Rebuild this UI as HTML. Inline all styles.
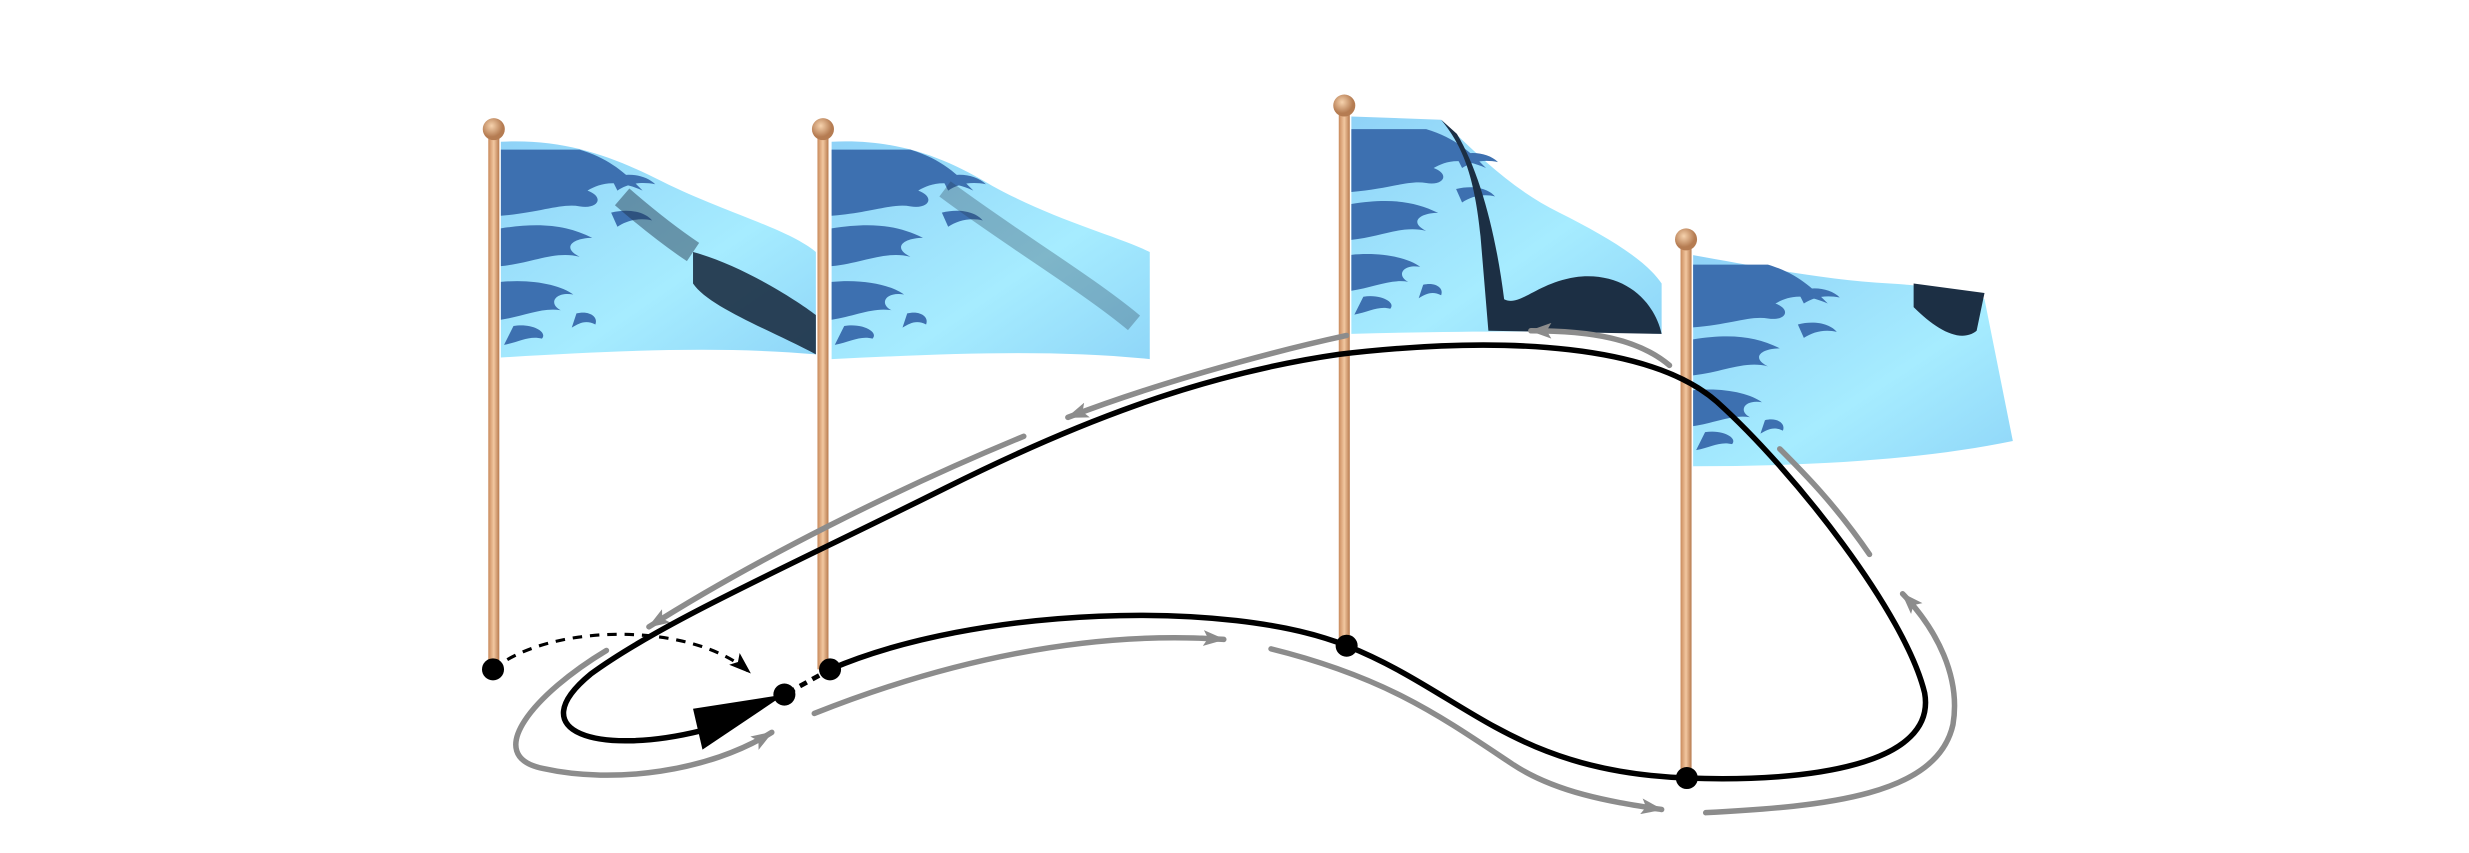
<!DOCTYPE html>
<html><head><meta charset="utf-8"><style>
html,body{margin:0;padding:0;background:#fff;}
svg{display:block;}
</style></head><body>
<svg width="2469" height="853" viewBox="0 0 1567.6 541.6" xmlns="http://www.w3.org/2000/svg">
<defs>
<linearGradient id="pole" x1="0" x2="1"><stop offset="0" stop-color="#c98a5c"/><stop offset="0.5" stop-color="#f2c7a0"/><stop offset="1" stop-color="#b77a4e"/></linearGradient>
<radialGradient id="knob" cx="0.4" cy="0.35"><stop offset="0" stop-color="#f6d2ad"/><stop offset="1" stop-color="#b57c52"/></radialGradient>
<linearGradient id="cloth" x1="0" y1="0" x2="1" y2="1"><stop offset="0" stop-color="#8fd2f7"/><stop offset="0.6" stop-color="#a6ecff"/><stop offset="1" stop-color="#8fd6f8"/></linearGradient>
<marker id="ga" markerWidth="14" markerHeight="10" refX="13" refY="5" orient="auto" markerUnits="userSpaceOnUse"><path d="M0,0 L14,5 L0,10 L3,5 Z" fill="#8c8c8c"/></marker>
<marker id="ba" markerWidth="14" markerHeight="10" refX="13" refY="5" orient="auto" markerUnits="userSpaceOnUse"><path d="M0,0 L14,5 L0,10 L3,5 Z" fill="#000"/></marker>
<g id="flames" fill="#3d70b0">
<path d="M0,0 L50,0 C70,6 80,16 90,26 C72,18 62,22 55,26 C66,30 62,38 50,36 C38,34 25,40 0,42 Z"/>
<path d="M0,50 C25,46 42,48 58,56 C46,56 38,62 50,68 C34,64 20,72 0,74 Z"/>
<path d="M0,84 C20,82 38,86 46,92 C34,90 30,98 38,102 C26,100 14,106 0,108 Z"/>
<path d="M8,112 C20,110 30,116 26,120 C18,118 12,122 2,124 Z"/>
<path d="M48,104 C56,102 62,106 60,111 C54,108 50,110 45,113 Z"/>
<path d="M70,40 C82,37 92,40 96,45 C88,43 80,45 74,49 Z"/>
<path d="M70,18 C80,14 92,16 98,22 C88,20 80,22 74,26 Z"/>
</g>
</defs>

<g>
<path d="M318,90 C360,88 390,100 420,115 C460,135 500,145 518,160 L518,225 C460,220 400,222 318,227 Z" fill="url(#cloth)"/>
<use href="#flames" transform="translate(318,95)"/>
<path d="M440,160 C470,168 505,190 518,200 L518,225 C490,210 450,195 440,180 Z" fill="#1c2f44" opacity="0.9"/>
<path d="M395,125 C410,138 425,150 440,160" stroke="#1c2f44" stroke-width="14" fill="none" opacity="0.45"/>
</g>
<g>
<path d="M528,90 C570,88 600,100 630,118 C670,140 710,150 730,160 L730,228 C670,222 610,224 528,228 Z" fill="url(#cloth)"/>
<use href="#flames" transform="translate(528,95)"/>
<path d="M600,120 C640,150 690,180 720,205" stroke="#23374d" stroke-width="12" fill="none" opacity="0.3"/>
</g>
<g>
<path d="M858,74 L915,76 C940,100 960,120 990,135 C1020,150 1045,165 1055,180 L1055,212 C1000,210 930,210 858,212 Z" fill="url(#cloth)"/>
<use href="#flames" transform="translate(858,82) scale(0.95,0.95)"/>
<path d="M915,76 C928,92 936,110 940,150 L945,210 L1055,212 C1050,190 1030,172 1000,176 C975,180 965,195 955,190 C950,150 940,110 925,85 Z" fill="#1c2f44"/>
</g>
<g>
<path d="M1075,162 C1120,170 1160,178 1200,180 C1230,182 1255,185 1260,190 L1278,280 C1220,292 1150,296 1075,296 Z" fill="url(#cloth)"/>
<use href="#flames" transform="translate(1075,168) scale(0.95,0.95)"/>
<path d="M1215,180 L1260,186 L1255,210 C1245,218 1230,210 1215,195 Z" fill="#1c2f44"/>
</g>

<g><rect x="310" y="88" width="7" height="337" fill="url(#pole)"/><circle cx="313.5" cy="82" r="7" fill="url(#knob)"/></g>
<g><rect x="519" y="88" width="7" height="337" fill="url(#pole)"/><circle cx="522.5" cy="82" r="7" fill="url(#knob)"/></g>
<g><rect x="850" y="73" width="7" height="337" fill="url(#pole)"/><circle cx="853.5" cy="67" r="7" fill="url(#knob)"/></g>
<g><rect x="1067" y="158" width="7" height="336" fill="url(#pole)"/><circle cx="1070.5" cy="152" r="7" fill="url(#knob)"/></g>

<g stroke="#8c8c8c" stroke-width="3.5" fill="none" stroke-linecap="round">
<path d="M385,413 C340,440 305,480 345,488 C390,498 450,490 490,465" marker-end="url(#ga)"/>
<path d="M517,453 C600,420 690,400 777,406" marker-end="url(#ga)"/>
<path d="M807,412 C880,430 915,455 960,485 C990,505 1030,510 1055,514" marker-end="url(#ga)"/>
<path d="M1083,516 C1160,512 1230,505 1240,460 C1245,430 1230,400 1208,377" marker-end="url(#ga)"/>
<path d="M1187,352 C1165,320 1145,300 1130,285"/>
<path d="M1060,232 C1040,215 1010,210 972,210" marker-end="url(#ga)"/>
<path d="M855,213 C800,225 730,245 678,265" marker-end="url(#ga)"/>
<path d="M650,277 C570,310 480,355 412,398" marker-end="url(#ga)"/>
</g>

<g>
<path d="M527,425 C620,385 780,380 855,410 C930,440 960,490 1071,494 C1150,497 1230,485 1222,440 C1210,390 1140,300 1090,255 C1050,220 960,212 850,225 C760,238 680,270 600,310 C500,360 420,395 375,428 C330,465 380,480 445,464" stroke="#000" stroke-width="3.5" fill="none"/>
<path d="M440,450 L498,441 L446,476 Z" fill="#000"/>
<path d="M313,425 C350,395 440,395 476,427" stroke="#000" stroke-width="2" stroke-dasharray="6,5" fill="none" marker-end="url(#ba)"/>
<path d="M500,440 L527,425" stroke="#000" stroke-width="3" stroke-dasharray="5,4" fill="none"/>
</g>

<g fill="#000">
<circle cx="313" cy="425" r="7"/>
<circle cx="498" cy="441" r="7"/>
<circle cx="527" cy="425" r="7"/>
<circle cx="855" cy="410" r="7"/>
<circle cx="1071" cy="494" r="7"/>
</g>
</svg>
</body></html>
